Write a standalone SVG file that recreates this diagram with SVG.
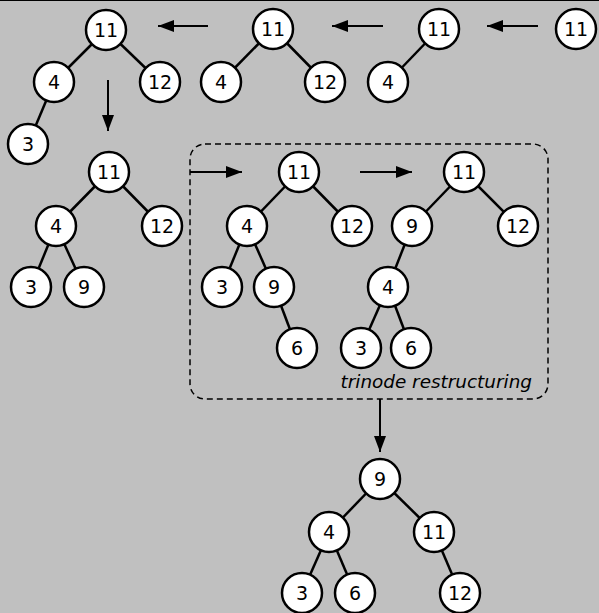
<svg xmlns="http://www.w3.org/2000/svg" width="599" height="613" viewBox="0 0 599 613">
<defs>
<style>
.n circle{fill:#fff;stroke:#000;stroke-width:2.5}
.n text{font-family:"DejaVu Sans",Verdana,sans-serif;font-size:19px;text-anchor:middle;dominant-baseline:central;fill:#000}
.e line{stroke:#000;stroke-width:2.5}
.a{stroke:#000;stroke-width:2;fill:none}
</style>
<marker id="ahL" markerWidth="16" markerHeight="12" refX="16" refY="6" orient="auto" markerUnits="userSpaceOnUse" viewBox="0 0 16 12">
<path d="M0,0 L16,6 L0,12 z" fill="#000"/>
</marker>
</defs>
<rect x="0" y="0" width="599" height="613" fill="#c0c0c0"/>
<line x1="0" y1="0.5" x2="599" y2="0.5" stroke="#000" stroke-width="1"/>
<rect x="190" y="144" width="358" height="255" rx="15" ry="15" fill="none" stroke="#000" stroke-width="1.5" stroke-dasharray="6,4"/>
<text x="532" y="388" font-family="DejaVu Sans,Verdana,sans-serif" font-size="18.4" font-style="italic" text-anchor="end" fill="#000">trinode restructuring</text>
<g id="connectors">
<g class="e">
<line x1="106" y1="30" x2="54" y2="82"/><line x1="106" y1="30" x2="160" y2="82"/><line x1="54" y1="82" x2="28" y2="144"/>
<line x1="273" y1="29" x2="221" y2="82"/><line x1="273" y1="29" x2="325" y2="82"/>
<line x1="439" y1="29" x2="388" y2="82"/>
<line x1="109" y1="172" x2="56" y2="226"/><line x1="109" y1="172" x2="162" y2="226"/><line x1="56" y1="226" x2="31" y2="287"/><line x1="56" y1="226" x2="84" y2="287"/>
<line x1="299" y1="172" x2="247" y2="226"/><line x1="299" y1="172" x2="352" y2="226"/><line x1="247" y1="226" x2="222" y2="287"/><line x1="247" y1="226" x2="274" y2="287"/><line x1="274" y1="287" x2="297" y2="348"/>
<line x1="464" y1="172" x2="412" y2="226"/><line x1="464" y1="172" x2="518" y2="226"/><line x1="412" y1="226" x2="388" y2="287"/><line x1="388" y1="287" x2="361" y2="348"/><line x1="388" y1="287" x2="411" y2="348"/>
<line x1="380" y1="479" x2="329" y2="532"/><line x1="380" y1="479" x2="434" y2="532"/><line x1="329" y1="532" x2="302" y2="593"/><line x1="329" y1="532" x2="355" y2="593"/><line x1="434" y1="532" x2="460" y2="593"/>
</g>
<line class="a" x1="208" y1="26" x2="158" y2="26" marker-end="url(#ahL)"/>
<line class="a" x1="383" y1="26" x2="332" y2="26" marker-end="url(#ahL)"/>
<line class="a" x1="538" y1="26" x2="487" y2="26" marker-end="url(#ahL)"/>
<line class="a" x1="108" y1="80" x2="108" y2="131" marker-end="url(#ahL)"/>
<line class="a" x1="190" y1="172" x2="242" y2="172" marker-end="url(#ahL)"/>
<line class="a" x1="360" y1="172" x2="412" y2="172" marker-end="url(#ahL)"/>
<line class="a" x1="380" y1="399" x2="380" y2="452" marker-end="url(#ahL)"/>
</g>
<g id="t1n11" class="n"><circle cx="106" cy="30" r="20"/><text x="106" y="30">11</text></g>
<g id="t1n4" class="n"><circle cx="54" cy="82" r="20"/><text x="54" y="82">4</text></g>
<g id="t1n12" class="n"><circle cx="160" cy="82" r="20"/><text x="160" y="82">12</text></g>
<g id="t1n3" class="n"><circle cx="28" cy="144" r="20"/><text x="28" y="144">3</text></g>
<g id="t2n11" class="n"><circle cx="273" cy="29" r="20"/><text x="273" y="29">11</text></g>
<g id="t2n4" class="n"><circle cx="221" cy="82" r="20"/><text x="221" y="82">4</text></g>
<g id="t2n12" class="n"><circle cx="325" cy="82" r="20"/><text x="325" y="82">12</text></g>
<g id="t3n11" class="n"><circle cx="439" cy="29" r="20"/><text x="439" y="29">11</text></g>
<g id="t3n4" class="n"><circle cx="388" cy="82" r="20"/><text x="388" y="82">4</text></g>
<g id="t4n11" class="n"><circle cx="576" cy="29" r="20"/><text x="576" y="29">11</text></g>
<g id="t5n11" class="n"><circle cx="109" cy="172" r="20"/><text x="109" y="172">11</text></g>
<g id="t5n4" class="n"><circle cx="56" cy="226" r="20"/><text x="56" y="226">4</text></g>
<g id="t5n12" class="n"><circle cx="162" cy="226" r="20"/><text x="162" y="226">12</text></g>
<g id="t5n3" class="n"><circle cx="31" cy="287" r="20"/><text x="31" y="287">3</text></g>
<g id="t5n9" class="n"><circle cx="84" cy="287" r="20"/><text x="84" y="287">9</text></g>
<g id="t6n11" class="n"><circle cx="299" cy="172" r="20"/><text x="299" y="172">11</text></g>
<g id="t6n4" class="n"><circle cx="247" cy="226" r="20"/><text x="247" y="226">4</text></g>
<g id="t6n12" class="n"><circle cx="352" cy="226" r="20"/><text x="352" y="226">12</text></g>
<g id="t6n3" class="n"><circle cx="222" cy="287" r="20"/><text x="222" y="287">3</text></g>
<g id="t6n9" class="n"><circle cx="274" cy="287" r="20"/><text x="274" y="287">9</text></g>
<g id="t6n6" class="n"><circle cx="297" cy="348" r="20"/><text x="297" y="348">6</text></g>
<g id="t7n11" class="n"><circle cx="464" cy="172" r="20"/><text x="464" y="172">11</text></g>
<g id="t7n9" class="n"><circle cx="412" cy="226" r="20"/><text x="412" y="226">9</text></g>
<g id="t7n12" class="n"><circle cx="518" cy="226" r="20"/><text x="518" y="226">12</text></g>
<g id="t7n4" class="n"><circle cx="388" cy="287" r="20"/><text x="388" y="287">4</text></g>
<g id="t7n3" class="n"><circle cx="361" cy="348" r="20"/><text x="361" y="348">3</text></g>
<g id="t7n6" class="n"><circle cx="411" cy="348" r="20"/><text x="411" y="348">6</text></g>
<g id="t8n9" class="n"><circle cx="380" cy="479" r="20"/><text x="380" y="479">9</text></g>
<g id="t8n4" class="n"><circle cx="329" cy="532" r="20"/><text x="329" y="532">4</text></g>
<g id="t8n11" class="n"><circle cx="434" cy="532" r="20"/><text x="434" y="532">11</text></g>
<g id="t8n3" class="n"><circle cx="302" cy="593" r="20"/><text x="302" y="593">3</text></g>
<g id="t8n6" class="n"><circle cx="355" cy="593" r="20"/><text x="355" y="593">6</text></g>
<g id="t8n12" class="n"><circle cx="460" cy="593" r="20"/><text x="460" y="593">12</text></g>
</svg>
